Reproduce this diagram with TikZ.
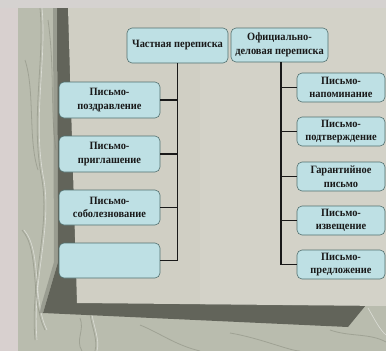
\documentclass[tikz,border=0pt]{standalone}
\usepackage{fontspec}
\setmainfont{Liberation Serif}
\newfontfamily\boxfont[FakeStretch=0.93]{Liberation Serif}
\definecolor{outerbg}{HTML}{D5D2D0}
\definecolor{outerleft}{HTML}{D8D0CF}
\definecolor{wall}{HTML}{B9BCAE}
\definecolor{wallline}{HTML}{8E9183}
\definecolor{shadow}{HTML}{62645A}
\definecolor{paper}{HTML}{D0CFC4}
\definecolor{boxfill}{HTML}{BEE0E4}
\definecolor{boxline}{HTML}{52706F}
\tikzset{
  box/.style={draw=boxline, line width=0.6pt, fill=boxfill, rounded corners=5pt,
    align=center, font=\boxfont\fontsize{11.2}{13.4}\selectfont\bfseries, text=black!90,
    inner sep=0pt},
  lbox/.style={box, minimum width=101pt, minimum height=36pt},
  rbox/.style={box, minimum width=88pt, minimum height=29pt},
  conn/.style={draw=black!90, line width=1.2pt}
}
\begin{document}
\begin{tikzpicture}[x=1pt,y=-1pt]
\useasboundingbox (0,0) rectangle (386,351);
% outer background
\fill[outerbg] (0,0) rectangle (386,351);
\fill[outerleft] (0,8) rectangle (18,351);
% wall
\fill[wall] (18,8) rectangle (386,351);
% some wall texture
\begin{scope}[line width=0.8pt, draw=wallline, opacity=0.6]
\draw (40,8) .. controls (45,60) and (30,120) .. (42,180) .. controls (50,230) and (30,280) .. (35,340);
\draw (25,60) .. controls (35,90) and (28,140) .. (38,170);
\draw (48,20) .. controls (55,70) and (50,110) .. (56,150);
\draw (22,230) .. controls (40,250) and (30,300) .. (45,330);
\draw (80,318) .. controls (85,330) and (75,340) .. (82,351);
\draw (90,314) .. controls (92,328) and (98,340) .. (95,351);
\draw (140,325) .. controls (160,333) and (175,345) .. (200,351);
\draw (230,333) .. controls (260,338) and (290,351) .. (300,351);
\draw (330,330) .. controls (350,337) and (370,333) .. (386,342);
\end{scope}
\begin{scope}[line width=0.6pt, draw=white, opacity=0.5]
\draw (42,8) .. controls (47,60) and (32,120) .. (44,180) .. controls (52,230) and (32,280) .. (37,340);
\draw (24,230) .. controls (42,250) and (32,300) .. (47,330);
\draw (92,314) .. controls (94,328) and (100,340) .. (97,351);
\draw (368,308) .. controls (375,320) and (380,330) .. (386,335);
\end{scope}
% shadow
\fill[shadow] (57,8) -- (70,8) -- (80,300) -- (366,305) -- (348,327) -- (43,313) -- (58,262) -- cycle;
\fill[shadow!60!wall, opacity=0.6] (53,8) -- (57,8) -- (58,262) -- (43,313) -- (39,313) -- (54,262) -- cycle;
% paper
\fill[paper] (68,8) -- (386,8) -- (386,306) -- (77,303) -- cycle;
\fill[white, opacity=0.08] (200,8) -- (386,8) -- (386,306) -- (200,305) -- cycle;

% boxes
\node[box, minimum width=101pt, minimum height=35pt] (tl) at (177.5,45.5) {Частная переписка};
\node[box, minimum width=97pt, minimum height=34pt] (tr) at (279.5,45) {Официально-\\деловая переписка};

\node[lbox] (L1) at (109.5,100) {Письмо-\\поздравление};
\node[lbox] (L2) at (109.5,154) {Письмо-\\приглашение};
\node[lbox, minimum height=35pt] (L3) at (109.5,207.5) {Письмо-\\соболезнование};
\node[lbox, minimum height=35pt] (L4) at (109.5,260.5) {};

\node[rbox] (R1) at (341,87.5) {Письмо-\\напоминание};
\node[rbox] (R2) at (341,131.5) {Письмо-\\подтверждение};
\node[rbox] (R3) at (341,176.5) {Гарантийное\\письмо};
\node[rbox] (R4) at (341,220.5) {Письмо-\\извещение};
\node[rbox] (R5) at (341,264.5) {Письмо-\\предложение};

% connectors
\draw[conn] (tl.south) -- (tl.south |- L4.east) -- (L4.east);
\foreach \n in {L1,L2,L3} \draw[conn] (\n.east) -- (\n.east -| tl.south);
\draw[conn] ([xshift=1.5pt]tr.south) -- ([xshift=1.5pt]tr.south |- R5.west) -- (R5.west);
\foreach \n in {R1,R2,R3,R4} \draw[conn] (\n.west) -- ([xshift=1.5pt]\n.west -| tr.south);
\end{tikzpicture}
\end{document}
